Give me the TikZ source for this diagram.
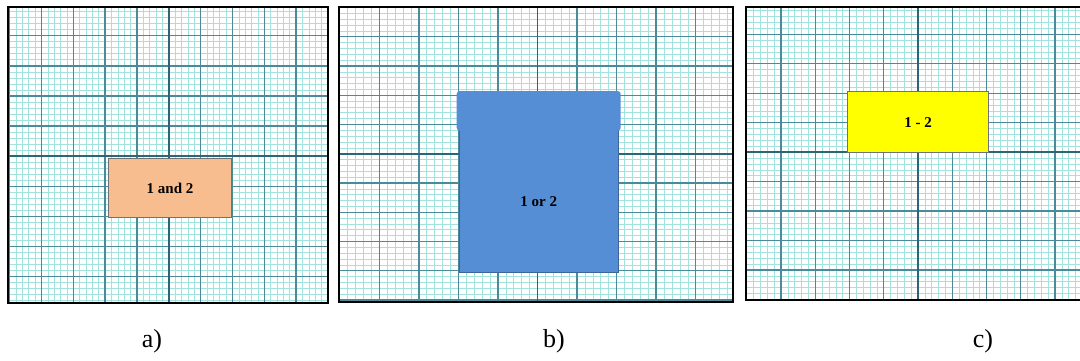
\documentclass[tikz,border=0pt]{standalone}
\usepackage{fontspec}
\setmainfont{Liberation Serif}
\definecolor{minorgrid}{HTML}{A3E3DE}
\definecolor{majorgrid}{HTML}{4A8A99}
\definecolor{midgrid}{HTML}{2E6576}
\definecolor{andfill}{HTML}{F8BD8E}
\definecolor{orfill}{HTML}{568ED5}
\definecolor{oredge}{HTML}{3D6599}
\definecolor{difffill}{HTML}{FFFF00}
\definecolor{boxedge}{HTML}{6F7378}
% #1,#2 top left corner; #3,#4 bottom right corner; #5,#6 first major x and spacing; #7,#8 first major y and spacing
\newcommand{\graphsheet}[8]{%
  \begin{scope}
    \clip (#1,#2) rectangle (#3,#4);
    \fill[white] (#1,#2) rectangle (#3,#4);
    \foreach \i in {0,...,60} {
      \draw[minorline] ({#5+\i*#6/5},#2) -- ({#5+\i*#6/5},#4);
      \draw[minorline] (#1,{#7+\i*#8/5}) -- (#3,{#7+\i*#8/5});
    }
    \foreach \i in {0,...,12} {
      \draw[majorline] ({#5+\i*#6},#2) -- ({#5+\i*#6},#4);
      \draw[majorline] (#1,{#7+\i*#8}) -- (#3,{#7+\i*#8});
    }
    \draw[midline] ({#5+5*#6},#2) -- ({#5+5*#6},#4);
    \draw[midline] (#1,{#7+5*#8}) -- (#3,{#7+5*#8});
  \end{scope}
  \draw[frameline] (#1,#2) rectangle (#3,#4);
}

\begin{document}
\begin{tikzpicture}[
  x=0.5pt, y=-0.5pt,
  minorline/.style={draw=minorgrid, line width=0.3pt},
  majorline/.style={draw=majorgrid, line width=0.7pt},
  midline/.style={draw=midgrid, line width=0.8pt},
  frameline/.style={draw=black, line width=1.1pt},
  region/.style 2 args={rectangle, draw=#1, fill=#2, line width=0.4pt,
              inner sep=0pt, outer sep=0pt, align=center, font=\bfseries\fontsize{7.5}{9}\selectfont},
  caption/.style={font=\fontsize{13}{15}\selectfont},
]
\useasboundingbox (0,0) rectangle (1080,360);
% ================= a) intersection =========================================
\graphsheet{8}{7}{328}{303}{9.6}{31.84}{5.6}{30.1}
\node[region={boxedge}{andfill}, minimum width=61.7pt, minimum height=29.7pt]
     (andbox) at (170,188) {1 and 2};
\node[caption] (capa) at (152,341) {a)};
% ================= b) union ================================================
\graphsheet{339}{7}{733}{302}{339.75}{39.55}{7.45}{29.25}
\node[region={oredge}{orfill}, minimum width=79.5pt, minimum height=71pt]
     (orbody) at (538.8,201.7) {1 or 2};
\node[rectangle, fill=orfill, rounded corners=1.5pt, inner sep=0pt,
      minimum width=82pt, minimum height=19.85pt] (orcap) at (538.7,110.9) {};
\node[caption] (capb) at (554,341) {b)};
% ================= c) difference ===========================================
\graphsheet{746}{7}{1084}{300}{746.75}{34.25}{4.84}{29.46}
\node[region={boxedge}{difffill}, minimum width=70.7pt, minimum height=30.5pt]
     (diffbox) at (918,122.2) {1 - 2};
\node[caption] (capc) at (983,341) {c)};
\end{tikzpicture}
\end{document}
